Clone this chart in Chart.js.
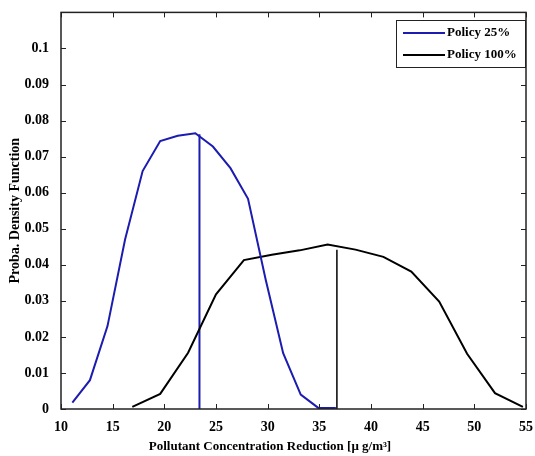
<!DOCTYPE html>
<html>
<head>
<meta charset="utf-8">
<script src="https://cdn.jsdelivr.net/npm/chart.js@4.4.1/dist/chart.umd.min.js"></script>
<style>
  body { margin: 0; background: #fff; }
  #wrap { width: 535px; height: 456px; }
</style>
</head>
<body>
<div id="wrap"><canvas id="pdfChart" width="535" height="456"></canvas></div>
<script>

// Policy 25%
const policy25X = [11.1, 12.8, 14.5, 16.2, 17.9, 19.6, 21.3, 23.0, 24.7, 26.4, 28.1, 29.8, 31.5, 33.2, 34.9, 36.6];
const policy25Y = [0.0018, 0.0080, 0.0230, 0.0470, 0.0660, 0.0743, 0.0758, 0.0765, 0.0728, 0.0668, 0.0583, 0.0360, 0.0155, 0.0040, 0.0003, 0.0003];

// Policy 100%
const policy100X = [16.9, 19.6, 22.3, 25.0, 27.7, 30.4, 33.1, 35.8, 38.5, 41.2, 43.9, 46.6, 49.3, 52.0, 54.7];
const policy100Y = [0.0006, 0.0042, 0.0156, 0.0318, 0.0413, 0.0428, 0.0440, 0.0456, 0.0442, 0.0422, 0.0381, 0.0298, 0.0153, 0.0044, 0.0006];

// lineas verticales (media)
const mean25 = { x: 23.4, top: 0.0762 };
const mean100 = { x: 36.7, top: 0.0442 };

const seriesLabels = ["Policy 25%", "Policy 100%"];
const seriesColors = ["#1c1cb0", "#000000"];

const xTicks = [10, 15, 20, 25, 30, 35, 40, 45, 50, 55];
const yTicks = [0, 0.01, 0.02, 0.03, 0.04, 0.05, 0.06, 0.07, 0.08, 0.09, 0.1];

const xTitle = "Pollutant Concentration Reduction [\u03bc g/m\u00b3]";
const yTitle = "Proba. Density Function";

const FONT = "'Liberation Serif', 'Times New Roman', serif";

function puntos(xs, ys) {
    return xs.map((x, i) => ({ x: x, y: ys[i] }));
}

const decor = {
    id: "decor",
    afterDatasetsDraw(chart) {
        const ctx = chart.ctx;
        const a = chart.chartArea;
        const sx = chart.scales.x;
        const sy = chart.scales.y;

        ctx.save();

        // marco
        ctx.strokeStyle = "#222";
        ctx.lineWidth = 1.5;
        ctx.strokeRect(a.left, a.top, a.right - a.left, a.bottom - a.top);

        // ticks hacia dentro
        ctx.lineWidth = 1;
        ctx.beginPath();
        xTicks.forEach(v => {
            const px = Math.round(sx.getPixelForValue(v)) + 0.5;
            ctx.moveTo(px, a.bottom); ctx.lineTo(px, a.bottom - 5);
            ctx.moveTo(px, a.top); ctx.lineTo(px, a.top + 5);
        });
        yTicks.forEach(v => {
            const py = Math.round(sy.getPixelForValue(v)) + 0.5;
            ctx.moveTo(a.left, py); ctx.lineTo(a.left + 5, py);
            ctx.moveTo(a.right, py); ctx.lineTo(a.right - 5, py);
        });
        ctx.stroke();

        // leyenda
        const lx = 396, ly = 20, lw = 129, lh = 47;
        ctx.fillStyle = "#fff";
        ctx.fillRect(lx, ly, lw, lh);
        ctx.strokeStyle = "#222";
        ctx.strokeRect(lx + 0.5, ly + 0.5, lw, lh);
        ctx.font = "bold 13px " + FONT;
        ctx.textBaseline = "middle";
        ctx.textAlign = "left";
        seriesLabels.forEach((lab, i) => {
            const y = ly + 13 + i * 22;
            ctx.strokeStyle = seriesColors[i];
            ctx.lineWidth = 2;
            ctx.beginPath();
            ctx.moveTo(lx + 7, y); ctx.lineTo(lx + 49, y);
            ctx.stroke();
            ctx.fillStyle = "#000";
            ctx.fillText(lab, lx + 51, y);
        });

        // titulos
        ctx.fillStyle = "#000";
        ctx.textAlign = "center";
        ctx.font = "bold 13px " + FONT;
        ctx.fillText(xTitle, 270, 447);

        ctx.translate(15, (a.top + a.bottom) / 2);
        ctx.rotate(-Math.PI / 2);
        ctx.font = "bold 14px " + FONT;
        ctx.fillText(yTitle, 0, 0);

        ctx.restore();
    }
};

new Chart(document.getElementById("pdfChart"), {
    type: "scatter",
    data: {
        datasets: [
            {
                label: seriesLabels[0],
                data: puntos(policy25X, policy25Y),
                borderColor: seriesColors[0],
                borderWidth: 2
            },
            {
                label: seriesLabels[1],
                data: puntos(policy100X, policy100Y),
                borderColor: seriesColors[1],
                borderWidth: 2
            },
            {
                label: "mean25",
                data: [{ x: mean25.x, y: 0 }, { x: mean25.x, y: mean25.top }],
                borderColor: seriesColors[0],
                borderWidth: 2
            },
            {
                label: "mean100",
                data: [{ x: mean100.x, y: 0 }, { x: mean100.x, y: mean100.top }],
                borderColor: seriesColors[1],
                borderWidth: 1.5
            }
        ]
    },
    options: {
        responsive: false,
        animation: false,
        showLine: true,
        elements: {
            point: { radius: 0, hoverRadius: 0 },
            line: { tension: 0, fill: false }
        },
        layout: { padding: { top: 12, right: 8, left: 0, bottom: 0 } },
        plugins: {
            legend: { display: false },
            tooltip: { enabled: false }
        },
        scales: {
            x: {
                type: "linear",
                min: 10,
                max: 55,
                afterFit: s => { s.height = 47; },
                afterBuildTicks: s => { s.ticks = xTicks.map(v => ({ value: v })); },
                grid: { display: false },
                border: { display: false },
                ticks: {
                    padding: 2,
                    color: "#000",
                    font: { family: FONT, weight: "bold", size: 14 },
                    maxRotation: 0
                }
            },
            y: {
                type: "linear",
                min: 0,
                max: 0.11,
                afterFit: s => { s.width = 61; },
                afterBuildTicks: s => { s.ticks = yTicks.map(v => ({ value: v })); },
                grid: { display: false },
                border: { display: false },
                ticks: {
                    padding: 4,
                    color: "#000",
                    font: { family: FONT, weight: "bold", size: 14 },
                    callback: v => String(Math.round(v * 100) / 100)
                }
            }
        }
    },
    plugins: [decor]
});
</script>
</body>
</html>
